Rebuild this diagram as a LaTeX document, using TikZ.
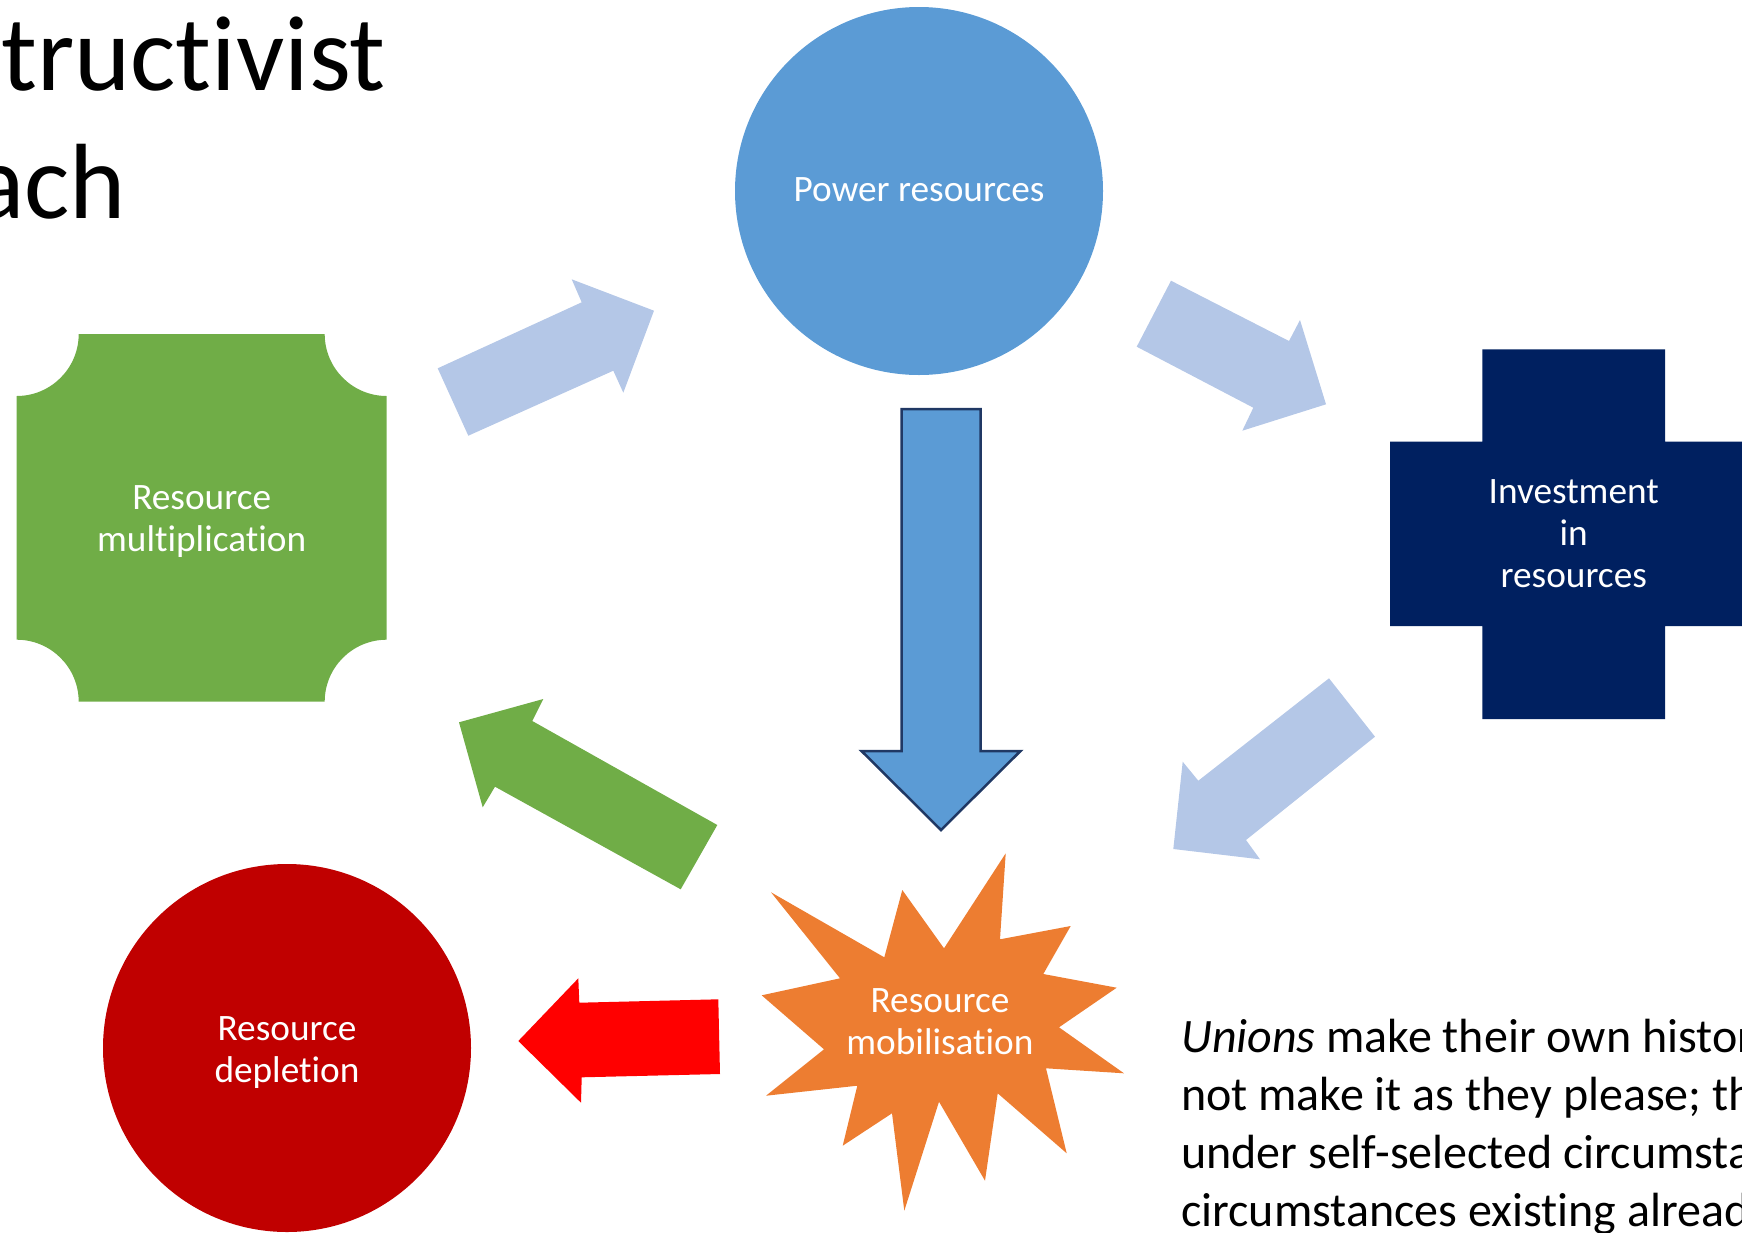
\documentclass[tikz,border=0pt]{standalone}
\usepackage{fontspec}
\setmainfont{Carlito}[Ligatures=NoCommon]
\definecolor{pblue}{HTML}{5B9BD5}
\definecolor{lblue}{HTML}{B4C7E7}
\definecolor{mgreen}{HTML}{70AD47}
\definecolor{navy}{HTML}{002060}
\definecolor{dred}{HTML}{C00000}
\definecolor{bred}{HTML}{FF0000}
\definecolor{orng}{HTML}{ED7D31}
\definecolor{outl}{HTML}{203864}
\begin{document}
\begin{tikzpicture}[x=1pt,y=-1pt,
  lab/.style={text=white, inner sep=0pt, align=center, font=\fontsize{37.3}{42}\selectfont},
  disc/.style={circle, inner sep=0pt, minimum size=368pt},
  quote/.style={anchor=base west, inner sep=0pt, font=\fontsize{48}{57}\selectfont},
  title/.style={anchor=base west, inner sep=0pt, font=\fontsize{107}{128}\selectfont},
  blockarrow/.style={fill=lblue}]
\useasboundingbox (0,0) rectangle (1742,1232);
\clip (0,0) rectangle (1742,1232);

% title (clipped at the left edge, as in the reference)
\node[title] (t1) at (1,90) {tructivist};
\node[title] (t2) at (-27,218) {ach};

% power resources
\node[disc, fill=pblue] (power) at (919,191) {};
\node[lab] (powertxt) at (919,190) {Power resources};

% resource multiplication (plaque)
\fill[mgreen] (78.7,334) -- (324.7,334) arc[start angle=180, end angle=90, radius=62]
  -- (386.7,639.7) arc[start angle=270, end angle=180, radius=62]
  -- (78.7,701.7) arc[start angle=0, end angle=-90, radius=62]
  -- (16.7,396) arc[start angle=90, end angle=0, radius=62] -- cycle;
\node[lab] (mult) at (201.7,522) {Resource\\multiplication};

% investment cross
\fill[navy] (1482.3,349.3) -- (1665,349.3) -- (1665,441.7) -- (1757,441.7) -- (1757,626)
  -- (1665,626) -- (1665,719) -- (1482.3,719) -- (1482.3,626) -- (1390,626)
  -- (1390,441.7) -- (1482.3,441.7) -- cycle;
\node[lab] (invest) at (1573.7,534) {Investment\\in\\resources};

% resource depletion
\node[disc, fill=dred] (depl) at (287,1048) {};
\node[lab] (depltxt) at (287,1053) {Resource\\depletion};

% resource mobilisation star
\fill[orng] (1005.7,853.3) -- (1000,939.3) -- (1070.7,926) -- (1043.3,974) -- (1116.7,987.7)
  -- (1059,1027.3) -- (1124,1073.3) -- (1046,1068.3) -- (1066.7,1153.3) -- (997.7,1093.3)
  -- (985,1180.7) -- (939,1101.7) -- (904.3,1210.7) -- (892,1113.3) -- (842.7,1145.7)
  -- (857.3,1085.7) -- (766,1095.7) -- (824,1049.3) -- (761.7,995.3) -- (840,978.3)
  -- (771,892.3) -- (884.3,957.3) -- (902.3,890) -- (944,948.3) -- cycle;
\node[lab] (mobil) at (940,1022) {Resource\\mobilisation};

% block arrows
\fill[blockarrow] (437.7,368.3) -- (581.7,302.3) -- (571.7,279.3) -- (654,310.7)
  -- (623.3,392.7) -- (613.3,370.7) -- (468.3,435.7) -- cycle;
\fill[blockarrow] (1171,280.7) -- (1289,341) -- (1300,320) -- (1326,404.3)
  -- (1242.3,430.7) -- (1253.3,407.7) -- (1136.7,346.7) -- cycle;
\fill[blockarrow] (1329,678.3) -- (1375,736.7) -- (1246,840) -- (1260,859.3)
  -- (1173.3,849) -- (1182.7,761.7) -- (1198.3,780.7) -- cycle;
\fill[mgreen] (459,722.3) -- (543.3,699) -- (532.3,721) -- (717.3,825)
  -- (680.7,889.3) -- (495,786.7) -- (482.7,807.3) -- cycle;
\fill[bred] (518.3,1041) -- (578.3,978.3) -- (579.3,1002.7) -- (718.3,999.3)
  -- (720,1074) -- (581.7,1077.3) -- (581,1102.7) -- cycle;
\filldraw[fill=pblue, draw=outl, line width=2.5pt] (901.5,409) -- (980.5,409) -- (980.5,751)
  -- (1020.5,751) -- (941,830) -- (861.5,751) -- (901.5,751) -- cycle;

% quote (clipped at the right edge, as in the reference)
\node[quote] (q1) at (1181,1052) {\textit{Unions} make their own histor};
\node[quote] (q2) at (1181,1110) {not make it as they please; th};
\node[quote] (q3) at (1181,1168) {under self-selected circumsta};
\node[quote] (q4) at (1181,1226) {circumstances existing alread};
\end{tikzpicture}
\end{document}
